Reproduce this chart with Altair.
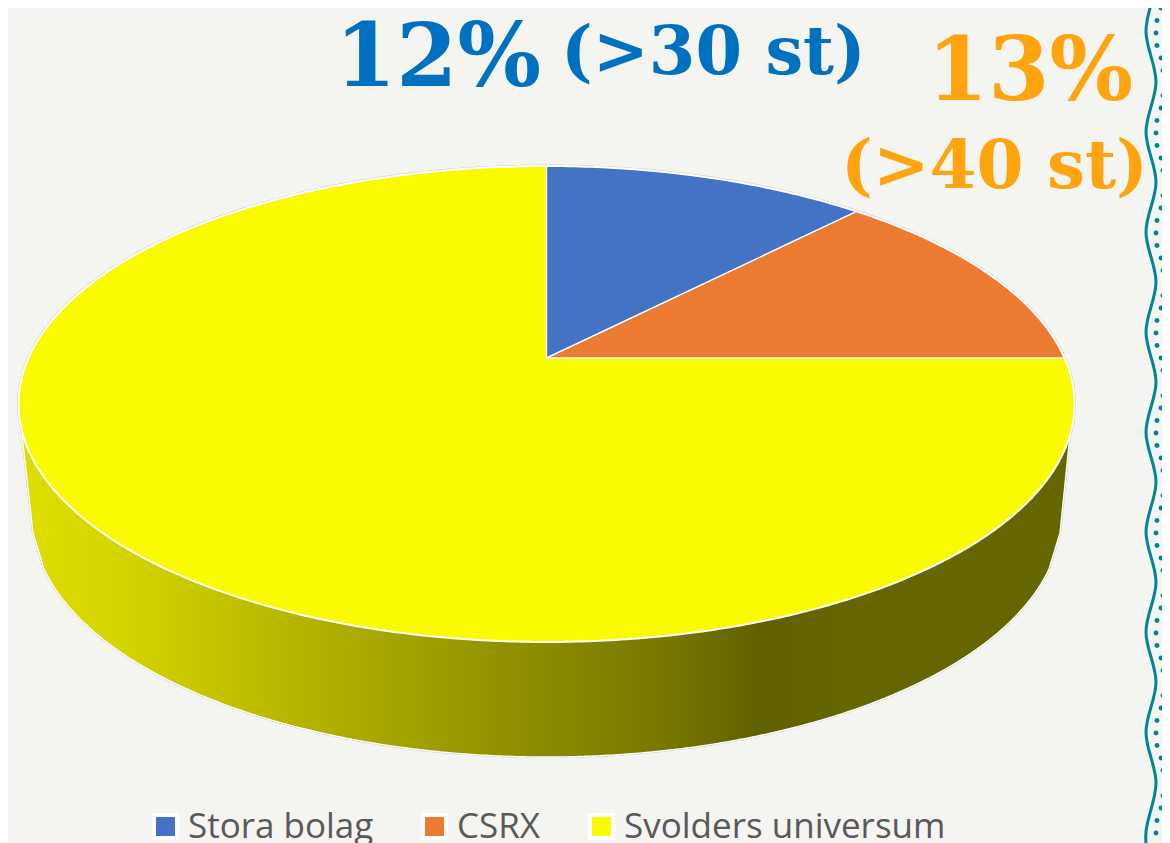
import numpy as np
import pandas as pd
import altair as alt

# --- chart values -------------------------------------------------------
CATEGORIES = ["Stora bolag", "CSRX", "Svolders universum"]
SHARES = [12, 13, 75]
COLORS = ["#4472C4", "#EA7B30", "#FBFB00"]

LABEL_TEXT = ["12%", "(>30 st)", "13%", "(>40 st)"]
LABEL_X = [335, 561, 927, 841]
LABEL_Y = [86, 74, 100, 188]
LABEL_SIZE = [88, 67, 88, 67.5]
LABEL_COLOR = ["#0070C0", "#0070C0", "#FFA30E", "#FFA30E"]

# wavy divider: extremes
WAVE_X = [1146, 1156]
WAVE_FIRST_Y = -68
WAVE_STEP = 50
DOT_X = [1161, 1157, 1156, 1157, 1161, 1163, 1165, 1163]
DOT_FIRST_Y = -92
DOT_STEP = 12.5

BACKGROUND = "#F4F4F0"
WAVE_COLOR = "#00849C"

# --- pie geometry (perspective view of a circular disc) ------------------
CX, TOP, BOTTOM, APEX_Y = 546.5, 166, 642, 358
RX = 528
WALL_BOTTOM = 757
WALL_RX = 514
RY = (BOTTOM - TOP) / 2
CY = (TOP + BOTTOM) / 2
# solve y(v) = (a v + APEX_Y) / (c v + 1) for v=1 -> TOP, v=-1 -> BOTTOM
c = (2 * APEX_Y - TOP - BOTTOM) / (TOP - BOTTOM)
a = TOP * c + TOP - APEX_Y
k = 516


def project(share):
    t = 2 * np.pi * share / 100
    u, v = np.sin(t), np.cos(t)
    d = c * v + 1
    return CX + k * u / d, (a * v + APEX_Y) / d


def rim_top(x):
    return CY - RY * np.sqrt(np.clip(1 - ((x - CX) / RX) ** 2, 0, 1))


def rim_bottom(x):
    return CY + RY * np.sqrt(np.clip(1 - ((x - CX) / RX) ** 2, 0, 1))


def even(x0, x1, n=160):
    return np.linspace(x0, x1, n)


bx, by = project(SHARES[0])
ox, oy = project(SHARES[0] + SHARES[1])
ax, ay = CX, APEX_Y


def on_line(x, x1, y1):
    return ay + (y1 - ay) * (x - ax) / (x1 - ax)


# top face
angles = np.linspace(-np.pi / 2, np.pi / 2, 500)
xs = CX + RX * np.sin(angles)
yellow = pd.DataFrame({"x": xs, "y": rim_top(xs), "y2": rim_bottom(xs), "cat": CATEGORIES[2]})

x1 = even(ax, bx)
blue = pd.DataFrame({"x": x1, "y": rim_top(x1), "y2": on_line(x1, bx, by), "cat": CATEGORIES[0]})

x2 = even(ax, bx)
x3 = even(bx, ox)
orange = pd.concat([
    pd.DataFrame({"x": x2, "y": on_line(x2, bx, by), "y2": APEX_Y}),
    pd.DataFrame({"x": x3, "y": rim_top(x3), "y2": APEX_Y}),
]).assign(cat=CATEGORIES[1])

# side wall
WL, WLB, WRB, WR = 22, 33, 1060, 1070
wall_cy = WALL_BOTTOM - RY
wx = np.concatenate([even(WL, WLB, 12), CX + WALL_RX * np.sin(np.linspace(-1.36, 1.36, 400)), even(WRB, WR, 12)])


def wall_low(x):
    out = wall_cy + RY * np.sqrt(np.clip(1 - ((x - CX) / WALL_RX) ** 2, 0, 1))
    left = np.interp(x, [WL, WLB], [435, 533])
    right = np.interp(x, [WRB, WR], [533, 435])
    return np.where(x <= WLB, left, np.where(x >= WRB, right, out))


wall = pd.DataFrame({"x": wx, "y": rim_bottom(wx), "y2": wall_low(wx)}).sort_values("x")

# outlines
ell_t = np.linspace(0, 2 * np.pi, 600)
rim = pd.DataFrame({
    "x": CX + RX * np.sin(ell_t),
    "y": CY - RY * np.cos(ell_t),
    "o": np.arange(600),
})
wall_edge = pd.DataFrame({"x": wall["x"], "y": wall["y2"]})
spokes = pd.DataFrame({
    "x": [ax, ax, ax, bx, ax, ox],
    "y": [ay, TOP, ay, by, ay, oy],
    "s": [0, 0, 1, 1, 2, 2],
    "o": [0, 1, 0, 1, 0, 1],
})

# divider
wave = pd.DataFrame({
    "x": [WAVE_X[i % 2] for i in range(20)],
    "y": [WAVE_FIRST_Y + i * WAVE_STEP for i in range(20)],
    "o": list(range(20)),
})
dots = pd.DataFrame({
    "x": [DOT_X[i % 8] for i in range(80)],
    "y": [DOT_FIRST_Y + i * DOT_STEP for i in range(80)],
})

labels = pd.DataFrame({
    "t": LABEL_TEXT, "x": LABEL_X, "y": LABEL_Y, "s": LABEL_SIZE, "c": LABEL_COLOR,
})

# --- scales: the reference's pixel frame, less the page margin -----------
W, H = 1154, 835
XS = alt.Scale(domain=[8, 1162], range=[0, W], nice=False, zero=False)
YS = alt.Scale(domain=[8, 843], range=[0, H], nice=False, zero=False)
X = alt.X("x:Q", axis=None, scale=XS)
Y = alt.Y("y:Q", axis=None, stack=None, scale=YS)
Y2 = alt.Y2("y2:Q")

color = alt.Color(
    "cat:N",
    scale=alt.Scale(domain=CATEGORIES, range=COLORS),
    sort=CATEGORIES,
    legend=alt.Legend(
        title=None,
        orient="none",
        legendX=140,
        legendY=801,
        direction="horizontal",
        columns=3,
        symbolType="square",
        symbolSize=529,
        symbolStrokeColor="white",
        symbolStrokeWidth=4,
        symbolOpacity=1,
        labelFont="Open Sans",
        labelFontSize=35,
        labelColor="#595959",
        labelLimit=500,
        labelOffset=5,
        columnPadding=41,
        padding=0,
    ),
)

wall_layer = alt.Chart(wall).mark_area(
    fill={
        "gradient": "linear",
        "x1": 0, "y1": 0, "x2": 1, "y2": 0,
        "stops": [
            {"offset": 0.0, "color": "#DEDE00"},
            {"offset": 0.084, "color": "#D6D600"},
            {"offset": 0.256, "color": "#B6B600"},
            {"offset": 0.45, "color": "#939300"},
            {"offset": 0.61, "color": "#787800"},
            {"offset": 0.708, "color": "#606000"},
            {"offset": 0.79, "color": "#666600"},
            {"offset": 1.0, "color": "#666600"},
        ],
    },
).encode(x=X, y=Y, y2=Y2)

wall_line_gray = alt.Chart(wall_edge).mark_line(color="#C8C8C8", strokeWidth=2.2).encode(x=X, y=Y)
wall_line = alt.Chart(wall_edge).mark_line(color="#FFFFFF", strokeWidth=1.4).encode(x=X, y=Y)

faces = [
    alt.Chart(d).mark_area(opacity=1).encode(x=X, y=Y, y2=Y2, color=color)
    for d in (yellow, orange, blue)
]

rim_gray = alt.Chart(rim).mark_line(color="#C8C8C8", strokeWidth=2.8).encode(x=X, y=Y, order="o:Q")
rim_line = alt.Chart(rim).mark_line(color="#FFFFFF", strokeWidth=2).encode(x=X, y=Y, order="o:Q")
spoke_line = alt.Chart(spokes).mark_line(color="#FFFFFF", strokeWidth=1.4).encode(
    x=X, y=Y, detail="s:N", order="o:Q"
)

wave_line = alt.Chart(wave).mark_line(
    color=WAVE_COLOR, strokeWidth=3, interpolate="natural"
).encode(x=X, y=Y, order="o:Q")
dot_layer = alt.Chart(dots).mark_circle(color=WAVE_COLOR, size=24, opacity=1).encode(x=X, y=Y)

text_layer = alt.Chart(labels).mark_text(
    font="DejaVu Serif", fontWeight="bold", align="left", baseline="alphabetic"
).encode(
    x=X, y=Y,
    text="t:N",
    size=alt.Size("s:Q", scale=None, legend=None),
    color=alt.Color("c:N", scale=None, legend=None),
)

chart = alt.layer(
    rim_gray, wall_line_gray, wall_layer, wall_line, *faces, rim_line, spoke_line,
    wave_line, dot_layer, text_layer,
).properties(
    width=W, height=H, padding=0, autosize=alt.AutoSizeParams(type="none"), background=BACKGROUND,
).configure_view(stroke=None)

chart.save("out.html", embed_options={"renderer": "svg", "actions": False})
